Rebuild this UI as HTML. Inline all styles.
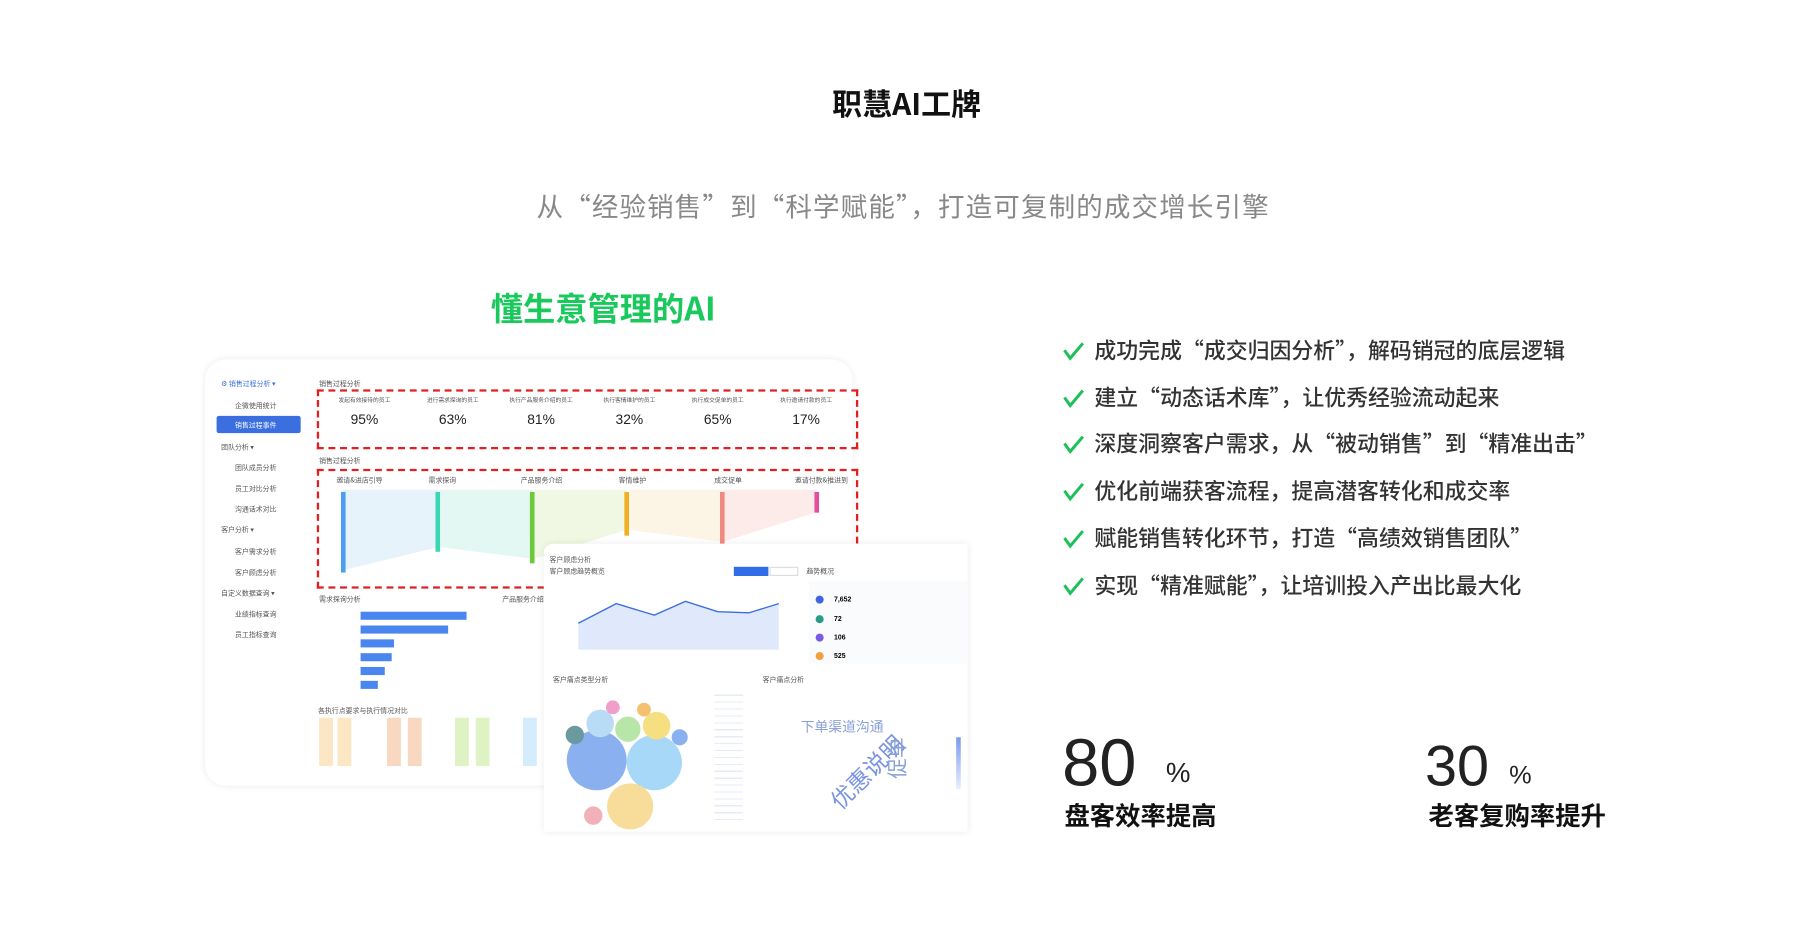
<!DOCTYPE html>
<html><head><meta charset="utf-8"><style>
html,body{margin:0;padding:0;background:#fff;overflow:hidden}
body{width:1797px;height:949px;position:relative;font-family:"Noto Sans CJK SC","Liberation Sans",sans-serif}
#w{position:absolute;left:0;top:0;width:1560px;height:824px;transform:scale(1.152);transform-origin:0 0}
.a{position:absolute;white-space:nowrap}
.t{font-size:6px;color:#555}
.chk{position:absolute;left:922px;width:20px;height:20px}
.li{position:absolute;left:950px;font-size:19px;color:#333;font-weight:500;line-height:24px}
.bar{position:absolute;width:4px}
.num{font-family:"Liberation Sans",sans-serif}
</style></head><body><div id="w">
<div class="a" style="left:0;width:1574px;text-align:center;top:72px;font-size:26px;font-weight:bold;color:#111;line-height:36px">职慧AI工牌</div>
<div class="a" style="left:0;width:1568px;text-align:center;top:162px;font-size:23px;color:#888;line-height:32px;letter-spacing:1px">从“经验销售”到“科学赋能”，打造可复制的成交增长引擎</div>
<div class="a" style="left:426px;top:248px;font-size:28px;font-weight:bold;color:#19c95c;line-height:38px">懂生意管理的AI</div>

<div class="a" style="left:178px;top:312px;width:562px;height:370px;border-radius:18px;background:#fff;box-shadow:0 0 6px rgba(0,0,0,.08)"></div>
<div class="a t" style="left:192px;top:328px;color:#3b6fe0">⚙ 销售过程分析 ▾</div>
<div class="a t" style="left:204px;top:347px">企微使用统计</div>
<div class="a" style="left:188px;top:361px;width:73px;height:15px;background:#3b6fe0;border-radius:2px"></div>
<div class="a t" style="left:204px;top:364px;color:#fff">销售过程事件</div>
<div class="a t" style="left:192px;top:383px">团队分析 ▾</div>
<div class="a t" style="left:204px;top:401px">团队成员分析</div>
<div class="a t" style="left:204px;top:419px">员工对比分析</div>
<div class="a t" style="left:204px;top:437px">沟通话术对比</div>
<div class="a t" style="left:192px;top:455px">客户分析 ▾</div>
<div class="a t" style="left:204px;top:474px">客户需求分析</div>
<div class="a t" style="left:204px;top:492px">客户顾虑分析</div>
<div class="a t" style="left:192px;top:510px">自定义数据查询 ▾</div>
<div class="a t" style="left:204px;top:528px">业绩指标查询</div>
<div class="a t" style="left:204px;top:546px">员工指标查询</div>

<div class="a t" style="left:277px;top:328px">销售过程分析</div>
<div class="a" style="left:275px;top:338px;width:466px;height:48px;border:2px dashed #e02020"></div>
<div class="a" style="left:278px;top:344px;width:460px;display:flex">
 <div style="flex:1;text-align:center;font-size:5px;color:#555">发起有效接待的员工<div class="num" style="font-size:12px;color:#222;margin-top:6px">95%</div></div>
 <div style="flex:1;text-align:center;font-size:5px;color:#555">进行需求探询的员工<div class="num" style="font-size:12px;color:#222;margin-top:6px">63%</div></div>
 <div style="flex:1;text-align:center;font-size:5px;color:#555">执行产品服务介绍的员工<div class="num" style="font-size:12px;color:#222;margin-top:6px">81%</div></div>
 <div style="flex:1;text-align:center;font-size:5px;color:#555">执行客情维护的员工<div class="num" style="font-size:12px;color:#222;margin-top:6px">32%</div></div>
 <div style="flex:1;text-align:center;font-size:5px;color:#555">执行成交促单的员工<div class="num" style="font-size:12px;color:#222;margin-top:6px">65%</div></div>
 <div style="flex:1;text-align:center;font-size:5px;color:#555">执行邀请付款的员工<div class="num" style="font-size:12px;color:#222;margin-top:6px">17%</div></div>
</div>
<div class="a t" style="left:277px;top:395px">销售过程分析</div>
<div class="a" style="left:275px;top:407px;width:466px;height:100px;border:2px dashed #e02020"></div>
<svg class="a" style="left:290px;top:425px" width="430" height="75">
<polygon points="8,0 90,0 90,50 8,70" fill="#dbeefa" opacity=".7"/>
<polygon points="92,0 172,0 172,60 92,50" fill="#d8f5ee" opacity=".7"/>
<polygon points="174,0 254,0 254,35 174,60" fill="#eaf5d8" opacity=".7"/>
<polygon points="256,0 336,0 336,45 256,35" fill="#fbf0d8" opacity=".7"/>
<polygon points="338,0 418,0 418,20 338,45" fill="#fbe3e0" opacity=".7"/>
</svg>
<div class="a t" style="left:292px;top:412px">邀请&进店引导</div>
<div class="a t" style="left:372px;top:412px">需求探询</div>
<div class="a t" style="left:452px;top:412px">产品服务介绍</div>
<div class="a t" style="left:537px;top:412px">客情维护</div>
<div class="a t" style="left:620px;top:412px">成交促单</div>
<div class="a t" style="left:690px;top:412px">邀请付款&推进到</div>
<div class="bar" style="left:296px;top:427px;height:70px;background:#4a9ff0"></div>
<div class="bar" style="left:378px;top:427px;height:52px;background:#3dd6b3"></div>
<div class="bar" style="left:460px;top:427px;height:62px;background:#6cc93a"></div>
<div class="bar" style="left:542px;top:427px;height:38px;background:#f0b020"></div>
<div class="bar" style="left:625px;top:427px;height:45px;background:#f08a80"></div>
<div class="bar" style="left:707px;top:427px;height:18px;background:#e0509a"></div>

<div class="a t" style="left:277px;top:515px">需求探询分析</div>
<div class="a" style="left:313px;top:531px;width:92px;height:7px;background:#4a86ef"></div>
<div class="a" style="left:313px;top:543px;width:76px;height:7px;background:#4a86ef"></div>
<div class="a" style="left:313px;top:555px;width:29px;height:7px;background:#4a86ef"></div>
<div class="a" style="left:313px;top:567px;width:27px;height:7px;background:#4a86ef"></div>
<div class="a" style="left:313px;top:579px;width:21px;height:7px;background:#4a86ef"></div>
<div class="a" style="left:313px;top:591px;width:15px;height:7px;background:#4a86ef"></div>
<div class="a t" style="left:436px;top:515px">产品服务介绍</div>
<div class="a t" style="left:276px;top:612px">各执行点要求与执行情况对比</div>
<div class="a" style="left:277px;top:623px;width:12px;height:42px;background:#fbe7c4"></div>
<div class="a" style="left:293px;top:623px;width:12px;height:42px;background:#fbe7c4"></div>
<div class="a" style="left:336px;top:623px;width:12px;height:42px;background:#f8d8c0"></div>
<div class="a" style="left:354px;top:623px;width:12px;height:42px;background:#f8d8c0"></div>
<div class="a" style="left:395px;top:623px;width:12px;height:42px;background:#dff2c4"></div>
<div class="a" style="left:413px;top:623px;width:12px;height:42px;background:#dff2c4"></div>
<div class="a" style="left:454px;top:623px;width:12px;height:42px;background:#d4ecfb"></div>

<div class="a" style="left:472px;top:472px;width:368px;height:250px;background:#fff;border-radius:8px 0 0 0;box-shadow:0 0 6px rgba(0,0,0,.08)"></div>
<div class="a t" style="left:477px;top:481px">客户顾虑分析</div>
<div class="a t" style="left:477px;top:491px">客户顾虑趋势概览</div>
<div class="a" style="left:637px;top:492px;width:30px;height:8px;background:#2f6ee6"></div>
<div class="a" style="left:668px;top:492px;width:25px;height:8px;border:1px solid #ddd;box-sizing:border-box"></div>
<div class="a t" style="left:700px;top:491px">趋势概况</div>
<svg class="a" style="left:480px;top:504px" width="220" height="70">
<polygon points="22,37 55,20 88,30 115,18 143,27 170,28 196,20 196,60 22,60" fill="#dfe9fb"/>
<polyline points="22,37 55,20 88,30 115,18 143,27 170,28 196,20" fill="none" stroke="#3b6fe0" stroke-width="1.2"/>
</svg>
<div class="a" style="left:702px;top:504px;width:138px;height:72px;background:#fafbfc"></div>
<div class="a" style="left:708px;top:517px;width:7px;height:7px;border-radius:50%;background:#4065e0"></div>
<div class="a" style="left:708px;top:534px;width:7px;height:7px;border-radius:50%;background:#2a9a8a"></div>
<div class="a" style="left:708px;top:550px;width:7px;height:7px;border-radius:50%;background:#7a5ae0"></div>
<div class="a" style="left:708px;top:566px;width:7px;height:7px;border-radius:50%;background:#f0a040"></div>
<div class="a num" style="left:724px;top:518px;font-size:6px;font-weight:bold">7,652</div>
<div class="a num" style="left:724px;top:535px;font-size:6px;font-weight:bold">72</div>
<div class="a num" style="left:724px;top:551px;font-size:6px;font-weight:bold">106</div>
<div class="a num" style="left:724px;top:567px;font-size:6px;font-weight:bold">525</div>
<div class="a t" style="left:480px;top:585px">客户痛点类型分析</div>
<div class="a t" style="left:662px;top:585px">客户痛点分析</div>
<svg class="a" style="left:485px;top:600px" width="170" height="120">
<circle cx="33" cy="60" r="26" fill="#8ab0f0"/>
<circle cx="83" cy="62" r="24" fill="#a8d8f8"/>
<circle cx="62" cy="100" r="20" fill="#f8dc9a"/>
<circle cx="36" cy="28" r="12" fill="#b8dcf5"/>
<circle cx="60" cy="33" r="11" fill="#b8e6a8"/>
<circle cx="85" cy="30" r="12" fill="#f5df80"/>
<circle cx="14" cy="38" r="8" fill="#6a9aa0"/>
<circle cx="105" cy="40" r="7" fill="#8ab0f0"/>
<circle cx="30" cy="108" r="8" fill="#f2b0b8"/>
<circle cx="47" cy="14" r="6" fill="#f0a0c8"/>
<circle cx="74" cy="16" r="6" fill="#f5c070"/>
</svg>
<div class="a" style="left:620px;top:600px;width:25px;height:115px;background:repeating-linear-gradient(#fff 0 3px,#e6ecf6 3px 4px,#fff 4px 6px)"></div>
<div class="a" style="left:695px;top:622px;font-size:12px;color:#8aa0d8">下单渠道沟通</div>
<div class="a" style="left:712px;top:655px;font-size:20px;color:#7a94e0;transform:rotate(-45deg)">优惠说明</div>
<div class="a" style="left:760px;top:645px;font-size:18px;color:#8aa0d8;transform:rotate(-90deg)">促单</div>
<div class="a" style="left:830px;top:640px;width:4px;height:45px;background:linear-gradient(#7a9af0,#e8eefc)"></div>

<svg class="chk" style="top:295px" viewBox="0 0 20 20"><path d="M2 9 L7 16 L18 3" fill="none" stroke="#1ec05a" stroke-width="2.6"/></svg>
<div class="li" style="top:292px">成功完成“成交归因分析”，解码销冠的底层逻辑</div>
<svg class="chk" style="top:336px" viewBox="0 0 20 20"><path d="M2 9 L7 16 L18 3" fill="none" stroke="#1ec05a" stroke-width="2.6"/></svg>
<div class="li" style="top:333px">建立“动态话术库”，让优秀经验流动起来</div>
<svg class="chk" style="top:376px" viewBox="0 0 20 20"><path d="M2 9 L7 16 L18 3" fill="none" stroke="#1ec05a" stroke-width="2.6"/></svg>
<div class="li" style="top:373px">深度洞察客户需求，从“被动销售”到“精准出击”</div>
<svg class="chk" style="top:417px" viewBox="0 0 20 20"><path d="M2 9 L7 16 L18 3" fill="none" stroke="#1ec05a" stroke-width="2.6"/></svg>
<div class="li" style="top:414px">优化前端获客流程，提高潜客转化和成交率</div>
<svg class="chk" style="top:458px" viewBox="0 0 20 20"><path d="M2 9 L7 16 L18 3" fill="none" stroke="#1ec05a" stroke-width="2.6"/></svg>
<div class="li" style="top:455px">赋能销售转化环节，打造“高绩效销售团队”</div>
<svg class="chk" style="top:499px" viewBox="0 0 20 20"><path d="M2 9 L7 16 L18 3" fill="none" stroke="#1ec05a" stroke-width="2.6"/></svg>
<div class="li" style="top:496px">实现“精准赋能”，让培训投入产出比最大化</div>

<div class="a num" style="left:922px;top:634px;font-size:58px;color:#222;line-height:1">80</div>
<div class="a num" style="left:1012px;top:658px;font-size:24px;color:#222">%</div>
<div class="a" style="left:924px;top:692px;font-size:22px;font-weight:bold;color:#111;line-height:30px">盘客效率提高</div>
<div class="a num" style="left:1237px;top:640px;font-size:50px;color:#222;line-height:1">30</div>
<div class="a num" style="left:1310px;top:660px;font-size:22px;color:#222">%</div>
<div class="a" style="left:1240px;top:692px;font-size:22px;font-weight:bold;color:#111;line-height:30px">老客复购率提升</div>
</div></body></html>
